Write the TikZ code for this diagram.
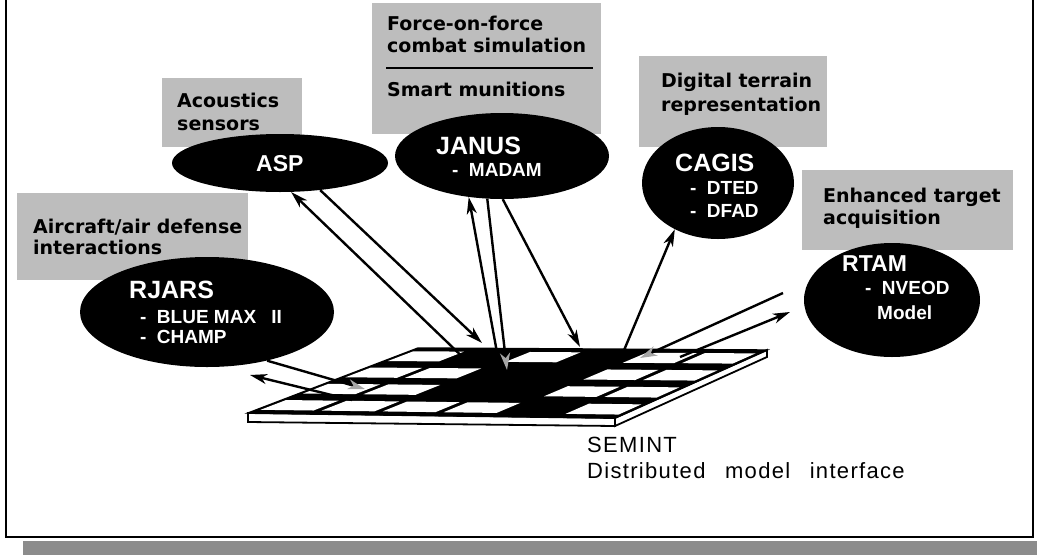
\documentclass[tikz,border=0pt]{standalone}
\usepackage{fontspec}
\setmainfont{Liberation Sans}
\newfontfamily\labfont{DejaVu Sans}
\newfontfamily\semfont{Liberation Sans}[LetterSpace=6]
\usetikzlibrary{shapes.geometric,arrows.meta,calc}
\definecolor{boxgray}{gray}{0.74}
\definecolor{bandgray}{gray}{0.55}
\begin{document}
\begin{tikzpicture}[x=1pt,y=-1pt,
  lab/.style={anchor=base west, inner sep=0pt, font={\labfont\bfseries\fontsize{19}{19}\selectfont}},
  ell/.style={ellipse, fill=black, draw=none, inner sep=0pt},
  ttl/.style={anchor=base west, inner sep=0pt, text=white, font={\bfseries\fontsize{#1}{#1}\selectfont}},
  sub/.style={anchor=base west, inner sep=0pt, text=white, font={\bfseries\fontsize{19}{19}\selectfont}},
  sem/.style={anchor=base west, inner sep=0pt, font={\semfont\fontsize{22}{22}\selectfont}},
  labbox/.style={fill=boxgray, draw=none},
  arr/.style={line width=2.4pt, -{Stealth[length=17pt,width=10pt,inset=5pt]}},
  arrg/.style={line width=2.4pt, -{Stealth[length=17pt,width=10pt,inset=5pt,color=gray!70]}}
]
\useasboundingbox (0,0) rectangle (1037,555);
% frame and shadow band
\fill[bandgray] (23,541) rectangle (1037,555);
\draw[line width=2pt] (6,-5) -- (6,537) -- (1033,537) -- (1033,-5);

% label boxes
\fill[labbox] (162,78) rectangle (302,147);
\fill[labbox] (372,3) rectangle (601,134);
\fill[labbox] (639,56) rectangle (827,147);
\fill[labbox] (802,170) rectangle (1013,250);
\fill[labbox] (17,193) rectangle (248,280);

\node[lab] (l1a) at (177,107) {Acoustics};
\node[lab] (l1b) at (177,130) {sensors};
\node[lab] (l2a) at (387,30) {Force-on-force};
\node[lab] (l2b) at (387,52) {combat simulation};
\draw[line width=2.2pt] (386,68) -- (593,68);
\node[lab] (l2c) at (387,96) {Smart munitions};
\node[lab] (l3a) at (661,87) {Digital terrain};
\node[lab] (l3b) at (661,111) {representation};
\node[lab] (l4a) at (823,202) {Enhanced target};
\node[lab] (l4b) at (823,224) {acquisition};
\node[lab] (l5a) at (33,233) {Aircraft/air defense};
\node[lab] (l5b) at (33,254) {interactions};

% ellipses
\node[ell, minimum width=216pt, minimum height=58pt] (asp) at (280,163) {};
\node[ell, minimum width=214pt, minimum height=86pt] (janus) at (502,156) {};
\node[ell, minimum width=152pt, minimum height=112pt] (cagis) at (718,183) {};
\node[ell, minimum width=176pt, minimum height=114pt] (rtam) at (892,300) {};
\node[ell, minimum width=254pt, minimum height=110pt] (rjars) at (207,312) {};

\node[ttl=23] (aspT) at (256,171) {ASP};
\node[ttl=25] (janT) at (436,154) {JANUS};
\node[sub] (janS) at (452,176) {-\hspace{0.55em}MADAM};
\node[ttl=25] (cagT) at (675,171) {CAGIS};
\node[sub] (cagS1) at (690,194) {-\hspace{0.55em}DTED};
\node[sub] (cagS2) at (690,217) {-\hspace{0.55em}DFAD};
\node[ttl=23] (rtT) at (842,271) {RTAM};
\node[sub] (rtS1) at (865,294) {-\hspace{0.55em}NVEOD};
\node[sub] (rtS2) at (877,319) {Model};
\node[ttl=25] (rjT) at (129,298) {RJARS};
\node[sub] (rjS1) at (140,323) {-\hspace{0.55em}BLUE MAX\hspace{0.8em}II};
\node[sub] (rjS2) at (140,343) {-\hspace{0.55em}CHAMP};

% plate
\coordinate (BL) at (418,348);
\coordinate (BR) at (767,350);
\coordinate (FR) at (615,418);
\coordinate (FL) at (248,413);
\draw[line width=1.8pt, fill=white] (FL) -- (FR) -- ($(FR)+(0,8)$) -- ($(FL)+(0,9)$) -- cycle;
\draw[line width=1.8pt, fill=white] (FR) -- (BR) -- ($(BR)+(0,7)$) -- ($(FR)+(0,8)$) -- cycle;
\filldraw[line width=1.4pt] (BL) -- (BR) -- (FR) -- (FL) -- cycle;
\foreach \i/\j in {0/0,2/0,4/0,5/0, 0/1,1/1,4/1,5/1, 0/2,1/2,4/2,5/2, 0/3,1/3,2/3,3/3,5/3} {
  \pgfmathsetmacro\ua{\i/6+0.011}
  \pgfmathsetmacro\ub{(\i+1)/6-0.011}
  \pgfmathsetmacro\va{\j/4+0.05}
  \pgfmathsetmacro\vb{(\j+1)/4-0.05}
  \path ($(BL)!\ua!(BR)$) coordinate (pa) ($(FL)!\ua!(FR)$) coordinate (qa)
        ($(BL)!\ub!(BR)$) coordinate (pb) ($(FL)!\ub!(FR)$) coordinate (qb);
  \fill[white] ($(pa)!\va!(qa)$) -- ($(pb)!\va!(qb)$) -- ($(pb)!\vb!(qb)$) -- ($(pa)!\vb!(qa)$) -- cycle;
}

\node[sem] (sem1) at (587,452) {SEMINT};
\node[sem] (sem2) at (587,478) {Distributed\hspace{0.55em} model\hspace{0.55em} interface};

% connector end points on the plate
\coordinate (g1) at (472,366);
\coordinate (g2) at (482,343);
\coordinate (g3) at (498,358);
\coordinate (g4) at (507,370);
\coordinate (g5) at (580,347);
\coordinate (g6) at (622,355);
\coordinate (g7) at (640,358);
\coordinate (g8) at (680,357);
\coordinate (g9) at (365,389);
\coordinate (g10) at (352,400);
\coordinate (rjEnd) at (250,375);
\coordinate (rtA) at (783,293);
\coordinate (rtB) at (790,312);

\draw[arr] (g1) -- (asp.291);
\draw[arr] (asp.326) -- (g2);
\draw[arr] (g3) -- (janus.231);
\draw[arrg] (janus.251) -- (g4);
\draw[arr] (janus.271) -- (g5);
\draw[arr] (g6) -- (cagis.227);
\draw[arrg] (rtA) -- (g7);
\draw[arr] (g8) -- (rtB);
\draw[arrg] (rjars.321) -- (g9);
\draw[arr] (g10) -- (rjEnd);
\end{tikzpicture}
\end{document}
